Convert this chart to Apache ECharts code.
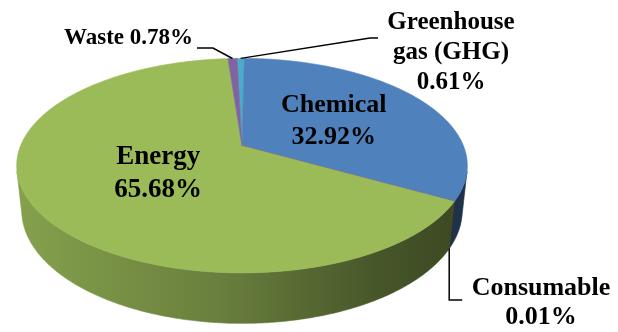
<!DOCTYPE html>
<html>
<head>
<meta charset="utf-8">
<script src="https://cdn.jsdelivr.net/npm/echarts@6/dist/echarts.min.js"></script>
<style>
  html, body { margin: 0; padding: 0; background: #ffffff; }
  #chart { width: 618px; height: 332px; }
</style>
</head>
<body>
<div id="chart"></div>
<script>
// Share of each impact category (percent), clockwise from the back of the disc
const categories = ['Greenhouse gas (GHG)', 'Chemical', 'Consumable', 'Energy', 'Waste'];
const shares = [0.61, 32.92, 0.01, 65.68, 0.78];
const labelNames = [['Greenhouse', 'gas (GHG)'], ['Chemical'], ['Consumable'], ['Energy'], ['Waste']];
const sliceColors = ['#4bacc6', '#4f81bd', '#c0504d', '#9bbb59', '#8064a2'];

// Label placement: 'inside' labels sit on the slice at a radius fraction,
// outside labels get a text anchor and a leader line.
const labelLayout = [
  { mode: 'outside', x: 451, y: 8, align: 'center', size: 25, lh: 30, anchor: 'top',
    path: function (a) { return [a, [370, 38], [378, 38]]; } },
  { mode: 'inside', r: 0.5, size: 26, lh: 32 },
  { mode: 'outside', x: 541, y: 274, align: 'center', size: 26, lh: 29, anchor: 'bottom',
    path: function (a) { return [a, [a[0], 300], [a[0] + 13, 300]]; } },
  { mode: 'inside', r: 0.43, size: 27, lh: 33, dy: 3 },
  { mode: 'outside', x: 193, y: 27, align: 'right', size: 23, lh: 23, oneLine: true, anchor: 'top',
    path: function (a) { return [[197, 48], [213, 48], a]; } }
];

// Perspective view of the disc
const view = {
  cx: 242, cy: 146,      // projected disc centre
  F: 1070, L: 4.83,      // focal length, camera distance (disc radius = 1)
  elev: 27.9,            // camera elevation, degrees
  depth: 0.231,          // disc thickness
  rot: -1.5              // first slice angle, degrees
};
const sinE = Math.sin(view.elev * Math.PI / 180);
const cosE = Math.cos(view.elev * Math.PI / 180);

// theta: degrees clockwise from the back, seen from above; y: height (0 top, -depth bottom)
function project(theta, r, y) {
  const t = theta * Math.PI / 180;
  const X = r * Math.sin(t), Z = -r * Math.cos(t);
  const d = view.L - y * sinE - Z * cosE;
  return [view.cx + X * view.F / d, view.cy - (y * cosE - Z * sinE) * view.F / d];
}

function arc(a0, a1, y) {
  const pts = [];
  const n = Math.max(2, Math.ceil(Math.abs(a1 - a0) / 0.5) + 1);
  for (let k = 0; k < n; k++) {
    pts.push(project(a0 + (a1 - a0) * k / (n - 1), 1, y));
  }
  return pts;
}

function shade(hex, f) {
  const v = parseInt(hex.slice(1), 16);
  const c = [(v >> 16) & 255, (v >> 8) & 255, v & 255].map(function (x) { return Math.round(x * f); });
  return 'rgb(' + c.join(',') + ')';
}

// Cumulative start angle of every slice
const total = shares.reduce(function (s, v) { return s + v; }, 0);
const startAngles = [];
shares.reduce(function (acc, v) { startAngles.push(view.rot + acc / total * 360); return acc + v; }, 0);

// Side wall faces the camera where cos(theta) < -1 / (L cos e)
const visHalf = Math.acos(-1 / (view.L * cosE)) * 180 / Math.PI;
const visRange = [visHalf, 360 - visHalf];

const fontFamily = '"Liberation Serif", "Times New Roman", serif';

function renderSlice(params, api) {
  const i = params.dataIndex;
  const value = api.value(0);
  const a0 = startAngles[i];
  const a1 = a0 + value / total * 360;
  const base = sliceColors[i];
  const children = [];

  // top face
  const top = [[view.cx, view.cy]].concat(arc(a0, a1, 0));
  children.push({
    type: 'polygon', z2: 10,
    shape: { points: top },
    style: { fill: base, stroke: base, lineWidth: 0.6 }
  });

  // front wall, shaded darker towards the right
  const s0 = Math.max(a0, visRange[0]);
  const s1 = Math.min(a1, visRange[1]);
  if (s1 > s0) {
    const upper = arc(s0, s1, 0);
    const lower = arc(s1, s0, -view.depth);
    const grad = {
      type: 'linear', x: 17, y: 0, x2: 468, y2: 0, global: true,
      colorStops: [
        { offset: 0, color: shade(base, 0.86) },
        { offset: 0.45, color: shade(base, 0.68) },
        { offset: 0.8, color: shade(base, 0.46) },
        { offset: 1, color: shade(base, 0.38) }
      ]
    };
    children.push({
      type: 'polygon', z2: 1,
      shape: { points: upper.concat(lower) },
      style: { fill: grad, stroke: grad, lineWidth: 0.6 }
    });
  }

  // label
  const lay = labelLayout[i];
  const pct = value.toFixed(2) + '%';
  const mid = (a0 + a1) / 2;
  const font = { fontFamily: fontFamily, fontWeight: 'bold', fill: '#000000' };
  if (lay.mode === 'inside') {
    const p = project(mid, lay.r, 0);
    children.push({
      type: 'text', z2: 20, x: p[0], y: p[1] + (lay.dy || 0),
      style: Object.assign({
        text: labelNames[i].concat([pct]).join('\n'),
        fontSize: lay.size, lineHeight: lay.lh,
        align: 'center', verticalAlign: 'middle'
      }, font)
    });
  } else {
    const text = lay.oneLine ? labelNames[i].concat([pct]).join(' ') : labelNames[i].concat([pct]).join('\n');
    children.push({
      type: 'text', z2: 20, x: lay.x, y: lay.y,
      style: Object.assign({
        text: text, fontSize: lay.size, lineHeight: lay.lh,
        align: lay.align, verticalAlign: 'top'
      }, font)
    });
    const anchor = lay.anchor === 'bottom' ? project(mid, 1, -view.depth) : project(mid, 1, 0);
    children.push({
      type: 'polyline', z2: 20,
      shape: { points: lay.path(anchor) },
      style: { stroke: '#000000', lineWidth: 1.5, fill: null }
    });
  }
  return { type: 'group', children: children };
}

const chart = echarts.init(document.getElementById('chart'), null, { renderer: 'canvas' });
chart.setOption({
  backgroundColor: '#ffffff',
  animation: false,
  series: [{
    type: 'custom',
    coordinateSystem: 'none',
    renderItem: renderSlice,
    data: shares.map(function (v, i) { return { name: categories[i], value: [v] }; })
  }]
});
</script>
</body>
</html>
